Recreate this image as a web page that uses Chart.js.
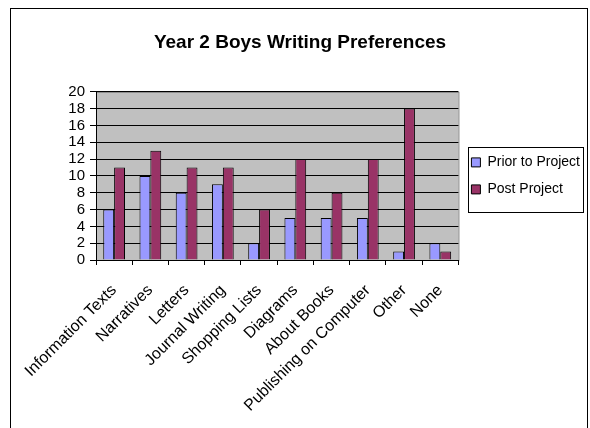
<!DOCTYPE html>
<html>
<head>
<meta charset="utf-8">
<script src="https://cdn.jsdelivr.net/npm/chart.js@4/dist/chart.umd.min.js"></script>
<style>
  html, body { margin: 0; padding: 0; background: #fff; }
  #wrap { width: 590px; height: 428px; }
</style>
</head>
<body>
<div id="wrap"><canvas id="c" width="590" height="428"></canvas></div>
<script>
const categories = ['Information Texts','Narratives','Letters','Journal Writing','Shopping Lists','Diagrams','About Books','Publishing on Computer','Other','None'];
const priorValues = [6,10,8,9,2,5,5,5,1,2];
const postValues = [11,13,11,11,6,12,8,12,18,1];
const yTicks = [0,2,4,6,8,10,12,14,16,18,20];

const FONT = "'Liberation Sans', Arial, sans-serif";

// frame, grey plot area and legend box
const decor = {
  id: 'decor',
  beforeDraw(chart) {
    const ctx = chart.ctx, a = chart.chartArea;
    ctx.save();
    ctx.fillStyle = '#fff';
    ctx.fillRect(0, 0, chart.width, chart.height);
    ctx.strokeStyle = '#000';
    ctx.lineWidth = 1;
    ctx.strokeRect(10.5, 8.5, 577, 440);
    ctx.fillStyle = '#c0c0c0';
    ctx.fillRect(a.left, a.top, a.right - a.left, a.bottom - a.top);
    ctx.strokeStyle = '#808080';
    ctx.strokeRect(a.left + 0.5, a.top + 0.5, a.right - a.left, a.bottom - a.top);
    ctx.restore();
  },
  afterDraw(chart) {
    const lg = chart.legend;
    if (!lg || !lg.legendHitBoxes) return;
    const hb = lg.legendHitBoxes;
    const top = Math.min(...hb.map(h => h.top)) - 8;
    const bottom = Math.max(...hb.map(h => h.top + h.height)) + 16;
    const ctx = chart.ctx;
    ctx.save();
    ctx.strokeStyle = '#000';
    ctx.lineWidth = 1;
    ctx.strokeRect(468.5, Math.round(top) + 0.5, 115, Math.round(bottom - top));
    ctx.restore();
  }
};

new Chart(document.getElementById('c'), {
  type: 'bar',
  data: {
    labels: categories,
    datasets: [{
      label: 'Prior to Project',
      data: priorValues,
      backgroundColor: '#9999ff',
      borderColor: '#000',
      borderWidth: 1
    },{
      label: 'Post Project',
      data: postValues,
      backgroundColor: '#993366',
      borderColor: '#000',
      borderWidth: 1
    }]
  },
  options: {
    responsive: false,
    animation: false,
    devicePixelRatio: 1,
    layout: { padding: { left: 10, right: 0, top: 0, bottom: 0 } },
    datasets: { bar: { categoryPercentage: 0.6, barPercentage: 1 } },
    plugins: {
      title: {
        display: true,
        text: 'Year 2 Boys Writing Preferences',
        color: '#000',
        font: { family: FONT, size: 19, weight: 'bold' },
        padding: { top: 31, bottom: 38 }
      },
      legend: {
        position: 'right',
        fullSize: false,
        labels: {
          color: '#000',
          font: { family: FONT, size: 14 },
          boxWidth: 9,
          boxHeight: 9,
          padding: 13,
          useBorderRadius: false
        }
      },
      tooltip: { enabled: false }
    },
    scales: {
      x: {
        afterFit(s) { s.height = 168; },
        grid: { drawOnChartArea: false, color: '#000', tickLength: 5 },
        border: { color: '#000' },
        ticks: {
          color: '#000',
          autoSkip: false,
          maxRotation: 45,
          minRotation: 45,
          padding: 16,
          font: { family: FONT, size: 16 }
        }
      },
      y: {
        min: 0,
        max: 20,
        afterFit(s) { s.width = 86; },
        afterBuildTicks(s) { s.ticks = yTicks.map(v => ({ value: v })); },
        grid: { color: '#000', tickLength: 6 },
        border: { color: '#000' },
        ticks: {
          color: '#000',
          autoSkip: false,
          padding: 5,
          font: { family: FONT, size: 15 }
        }
      }
    }
  },
  plugins: [decor]
});
</script>
</body>
</html>
